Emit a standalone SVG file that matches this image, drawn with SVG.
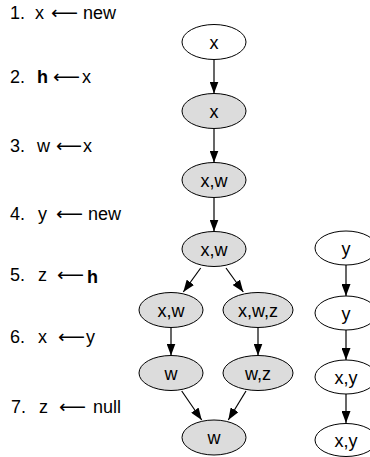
<svg xmlns="http://www.w3.org/2000/svg" width="370" height="457" viewBox="0 0 370 457">
<style>
.lbl{font-family:"Liberation Sans",Arial,sans-serif;font-size:18px;fill:#000}
.b{font-weight:bold}
.arw{font-family:"DejaVu Sans",sans-serif;font-size:18px;fill:#000}
.node ellipse{stroke:#000;stroke-width:1}
.w ellipse{fill:#fff}
.g ellipse{fill:#dcdcdc}
.node text{font-family:"Liberation Sans",Arial,sans-serif;font-size:18px;fill:#000;text-anchor:middle}
.edge{stroke:#000;stroke-width:1.2;fill:none;marker-end:url(#ah)}
</style>
<defs>
<marker id="ah" markerUnits="userSpaceOnUse" markerWidth="12" markerHeight="9" refX="12" refY="4.5" orient="auto">
<path d="M0,0 L12,4.5 L0,9 z" fill="#000"/>
</marker>
</defs>
<g id="labels">
<text class="lbl" x="10" y="19">1.</text><text class="lbl" x="35" y="19">x</text><text class="arw" x="51" y="19" textLength="27" lengthAdjust="spacingAndGlyphs">⟵</text><text class="lbl" x="83" y="19">new</text>
<text class="lbl" x="10" y="83">2.</text><text class="lbl b" x="37" y="83">h</text><text class="arw" x="53" y="83" textLength="27" lengthAdjust="spacingAndGlyphs">⟵</text><text class="lbl" x="82" y="83">x</text>
<text class="lbl" x="10" y="152">3.</text><text class="lbl" x="37" y="152">w</text><text class="arw" x="56" y="152" textLength="26" lengthAdjust="spacingAndGlyphs">⟵</text><text class="lbl" x="83" y="152">x</text>
<text class="lbl" x="10" y="220">4.</text><text class="lbl" x="38" y="220">y</text><text class="arw" x="56" y="220" textLength="27" lengthAdjust="spacingAndGlyphs">⟵</text><text class="lbl" x="88" y="220">new</text>
<text class="lbl" x="10" y="281">5.</text><text class="lbl" x="38" y="281">z</text><text class="arw" x="57" y="281" textLength="27" lengthAdjust="spacingAndGlyphs">⟵</text><text class="lbl b" x="87" y="283">h</text>
<text class="lbl" x="10" y="343">6.</text><text class="lbl" x="38" y="343">x</text><text class="arw" x="58" y="343" textLength="27" lengthAdjust="spacingAndGlyphs">⟵</text><text class="lbl" x="86" y="343">y</text>
<text class="lbl" x="11" y="413">7.</text><text class="lbl" x="39" y="413">z</text><text class="arw" x="59" y="413" textLength="27" lengthAdjust="spacingAndGlyphs">⟵</text><text class="lbl" x="93" y="413">null</text>
</g>
<g id="connectors">
<line class="edge" x1="214" y1="59.5" x2="214" y2="93.5"/>
<line class="edge" x1="214" y1="128.5" x2="214" y2="162.5"/>
<line class="edge" x1="214" y1="197.5" x2="214" y2="231.5"/>
<line class="edge" x1="200.7" y1="268" x2="183.3" y2="292"/>
<line class="edge" x1="226" y1="268" x2="243.3" y2="292"/>
<line class="edge" x1="171" y1="327.5" x2="171" y2="355.5"/>
<line class="edge" x1="258" y1="327.5" x2="258" y2="355.5"/>
<line class="edge" x1="181.7" y1="391" x2="201.7" y2="420"/>
<line class="edge" x1="246" y1="391" x2="228.3" y2="420"/>
<line class="edge" x1="346" y1="265" x2="346" y2="296"/>
<line class="edge" x1="346" y1="330" x2="346" y2="360"/>
<line class="edge" x1="346" y1="394" x2="346" y2="423"/>
</g>
<g id="n1" class="node w"><ellipse cx="214" cy="42" rx="32" ry="17.5"/><text x="214" y="48.5">x</text></g>
<g id="n2" class="node g"><ellipse cx="214" cy="111" rx="32" ry="17.5"/><text x="214" y="117.5">x</text></g>
<g id="n3" class="node g"><ellipse cx="214" cy="180" rx="32" ry="17.5"/><text x="214" y="186.5">x,w</text></g>
<g id="n4" class="node g"><ellipse cx="214" cy="249" rx="32" ry="17.5"/><text x="214" y="255.5">x,w</text></g>
<g id="n5a" class="node g"><ellipse cx="171" cy="310" rx="32" ry="17.5"/><text x="171" y="316.5">x,w</text></g>
<g id="n5b" class="node g"><ellipse cx="258" cy="310" rx="35" ry="17.5"/><text x="258" y="316.5">x,w,z</text></g>
<g id="n6a" class="node g"><ellipse cx="171" cy="373" rx="32" ry="17.5"/><text x="171" y="379.5">w</text></g>
<g id="n6b" class="node g"><ellipse cx="258" cy="373" rx="35" ry="17.5"/><text x="258" y="379.5">w,z</text></g>
<g id="n7" class="node g"><ellipse cx="214" cy="437.5" rx="32" ry="17.5"/><text x="214" y="444">w</text></g>
<g id="r1" class="node w"><ellipse cx="346" cy="248" rx="31" ry="17"/><text x="346" y="254.5">y</text></g>
<g id="r2" class="node w"><ellipse cx="346" cy="313" rx="31" ry="17"/><text x="346" y="319.5">y</text></g>
<g id="r3" class="node w"><ellipse cx="346" cy="377" rx="31" ry="17"/><text x="346" y="383.5">x,y</text></g>
<g id="r4" class="node w"><ellipse cx="346" cy="440" rx="31" ry="16.5"/><text x="346" y="446.5">x,y</text></g>
</svg>
